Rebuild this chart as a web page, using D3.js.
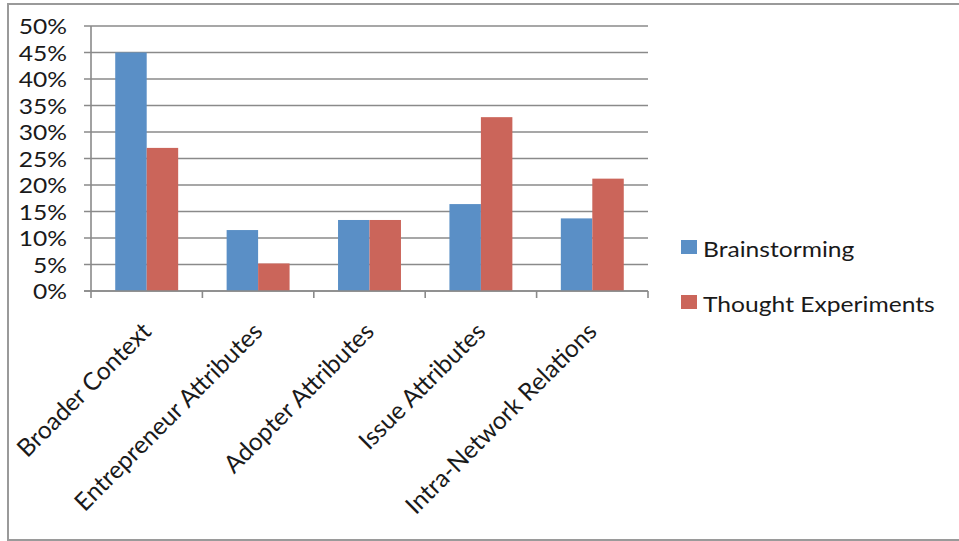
<!DOCTYPE html>
<html><head><meta charset="utf-8">
<script src="https://cdn.jsdelivr.net/npm/d3@7"></script>
<style>
html,body{margin:0;padding:0;background:#fff;}
text{font-family:Lato,"Open Sans",sans-serif;fill:#1a1a1a;}
</style></head>
<body>
<svg id="chart" width="959" height="541"></svg>
<script>
const categories = ["Broader Context","Entrepreneur Attributes","Adopter Attributes","Issue Attributes","Intra-Network Relations"];
const seriesNames = ["Brainstorming","Thought Experiments"];
const brainstorming = [0.45, 0.115, 0.134, 0.164, 0.137];
const thoughtExperiments = [0.27, 0.052, 0.134, 0.328, 0.212];
const yTicks = [0,0.05,0.10,0.15,0.20,0.25,0.30,0.35,0.40,0.45,0.50];
const colors = ["#5a8fc6","#cb655a"];

(function(){
const sx = 1.12;
const svg = d3.select("#chart");
svg.append("rect").attr("x",8).attr("y",4).attr("width",970).attr("height",536)
  .attr("fill","none").attr("stroke","#9a9a9a").attr("stroke-width",2);

const pL=91, pR=648, pT=26, pB=291;
const y = d3.scaleLinear().domain([0,0.5]).range([pB, pT]);
const x0 = d3.scaleBand().domain(categories).range([pL,pR]).paddingInner(0.435).paddingOuter(0.2175);
const x1 = d3.scaleBand().domain(seriesNames).range([0,x0.bandwidth()]);
const step = x0.step();
const gridColor = "#8a8a8a";

const yAxis = d3.axisLeft(y).tickValues(yTicks).tickSize(0).tickFormat(d3.format(".0%"));
const gy = svg.append("g").attr("transform",`translate(${pL-24},0)`).call(yAxis);
gy.select(".domain").remove();
gy.selectAll(".tick text")
  .attr("x",0).attr("dy","0.36em").style("font-size","22px").style("font-family","Lato").attr("fill","#1a1a1a")
  .attr("transform",`scale(${sx},1)`);

svg.append("g").selectAll("line").data(yTicks).join("line")
  .attr("x1",pL-7).attr("x2",pR).attr("y1",d=>y(d)).attr("y2",d=>y(d))
  .attr("stroke",gridColor).attr("stroke-width",1.6);

svg.append("line").attr("x1",pL).attr("x2",pL).attr("y1",pT).attr("y2",pB)
  .attr("stroke",gridColor).attr("stroke-width",1.6);

const data = categories.map((c,i)=>({c, vals:[brainstorming[i], thoughtExperiments[i]]}));
svg.append("g").selectAll("g").data(data).join("g")
  .attr("transform",d=>`translate(${x0(d.c)},0)`)
  .selectAll("rect").data(d=>d.vals.map((v,j)=>({v,s:seriesNames[j],j})))
  .join("rect")
  .attr("x",d=>x1(d.s)).attr("width",x1.bandwidth())
  .attr("y",d=>y(d.v)).attr("height",d=>pB-y(d.v))
  .attr("fill",d=>colors[d.j]);

svg.append("line").attr("x1",pL-7).attr("x2",pR).attr("y1",pB).attr("y2",pB)
  .attr("stroke",gridColor).attr("stroke-width",1.6);
const bounds = d3.range(categories.length+1).map(i=>pL+i*step);
svg.append("g").selectAll("line").data(bounds).join("line")
  .attr("x1",d=>d).attr("x2",d=>d).attr("y1",pB).attr("y2",pB+7)
  .attr("stroke",gridColor).attr("stroke-width",1.6);

svg.append("g").selectAll("text").data(categories).join("text")
  .attr("transform",d=>`translate(${x0(d)+x0.bandwidth()/2+6},${pB+42}) rotate(-45)`)
  .attr("text-anchor","end")
  .style("font-size","24.5px")
  .text(d=>d);

const leg = svg.append("g").selectAll("g").data(seriesNames).join("g")
  .attr("transform",(d,i)=>`translate(681,${240+i*55})`);
leg.append("rect").attr("width",16).attr("height",14).attr("fill",(d,i)=>colors[i]);
leg.append("text").attr("transform",`translate(22,17) scale(${sx},1)`).style("font-size","22px").text(d=>d);
})();
</script>
</body></html>
